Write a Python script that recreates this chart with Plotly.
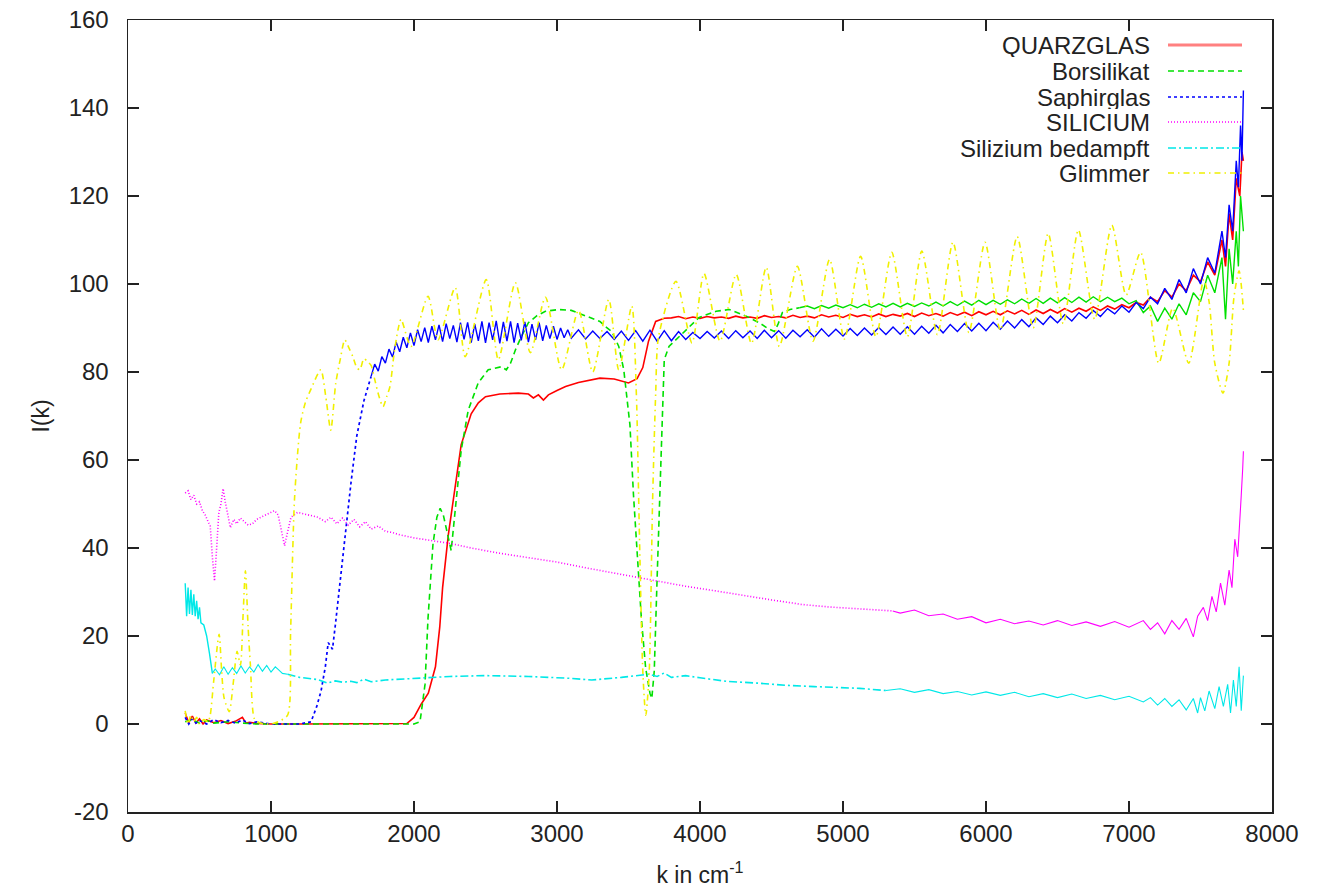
import plotly.graph_objects as go

# ---------------- data ----------------
# QUARZGLAS
quarz_k = [400, 425, 450, 475, 500, 525, 550, 600, 650, 700,
           750, 800, 825, 850, 900, 1000, 1200, 1500, 1800, 1950,
           2000, 2050, 2100, 2150, 2180, 2200, 2240, 2290, 2330, 2400,
           2450, 2500, 2600, 2730, 2800, 2835, 2870, 2905, 2940, 3000,
           3060, 3150, 3300, 3400, 3500, 3560, 3600, 3640, 3690, 3750] \
    + list(range(3800, 7001, 50)) \
    + [7050, 7100, 7150, 7200, 7250, 7300, 7350, 7400, 7450, 7500,
       7550, 7600, 7650, 7675, 7700, 7725, 7750, 7775, 7790, 7800]
quarz_i = [2.5, 0.3, 1.8, 0.2, 1.2, 0, 0.9, 0.3, 0.8, 0.1,
           0.6, 1.5, 0.2, 0.4, 0.1, 0, 0, 0, 0, 0.1,
           1.5, 4.5, 7, 13, 22, 31, 43, 55, 63.5, 70.5,
           73, 74.4, 75, 75.2, 75, 74.1, 74.8, 73.6, 74.8, 75.8,
           76.7, 77.6, 78.6, 78.4, 77.5, 78.5, 81, 87, 91.5, 92.2,
           92.3, 92.6, 92.1, 92.5, 92.2, 92.6, 92.3, 92.5, 92.2, 92.7,
           92.3, 92.5, 92.2, 92.8, 92.4, 92.6, 92.3, 92.9, 92.4, 92.7,
           92.3, 93.0, 92.5, 92.9, 92.4, 93.1, 92.6, 93.0, 92.5, 93.2,
           92.6, 93.1, 92.7, 93.3, 92.6, 93.4, 92.8, 93.3, 92.7, 93.5,
           92.9, 93.6, 92.8, 93.7, 93.0, 93.8, 93.0, 93.9, 93.2, 94.0,
           93.1, 94.1, 93.3, 94.2, 93.4, 94.4, 93.6, 94.5, 93.8, 94.8,
           94.0, 95.0, 94.3, 95.3, 94.6,
           95.8, 95.2, 97.0, 96.0, 98.5, 97.0, 100.0, 98.5, 102.0, 100.5,
           105.0, 102.0, 110.0, 104.0, 116.0, 110.0, 124.0, 120.0, 130.0, 128.0]

# Borsilikat
bors_k = [400, 450, 500, 550, 600, 700, 800, 900, 1500, 2000,
          2042, 2077, 2098, 2133, 2160, 2183, 2205, 2225, 2260, 2295,
          2330, 2379, 2449, 2519, 2580, 2611, 2646, 2675, 2709, 2750,
          2800, 2860, 2919, 3011, 3100, 3221, 3300, 3340, 3383, 3432,
          3467, 3488, 3510, 3535, 3560, 3590, 3620, 3650, 3663, 3680,
          3700, 3712, 3734, 3750, 3783, 3853, 3930, 3994, 4113, 4204,
          4323, 4414, 4470, 4520, 4545, 4576, 4630, 4695] \
    + list(range(4750, 7651, 50)) \
    + [7675, 7700, 7725, 7750, 7765, 7780, 7800]
bors_i = [0.5, 1, 0.2, 0.8, 0.2, 0.5, 0.2, 0, 0, 0,
          0.5, 9, 24, 41, 47, 49, 47.5, 44.6, 39.4, 50.8,
          62.2, 71.3, 77.5, 80.5, 81, 81.2, 80.5, 82, 85, 88,
          91.2, 92.8, 93.8, 94.2, 94, 92.4, 91.5, 90.3, 89.2, 85.8,
          80.5, 74.4, 68, 52, 38, 24, 12.7, 7, 5.8, 12,
          33, 45, 70, 82.8, 85.8, 88, 90.3, 92.4, 93.8, 94.2,
          92.7, 91.2, 90, 89.2, 90.8, 93.5, 94.2, 94.6,
          95.0, 94.4, 95.1, 94.5, 95.2, 94.6, 95.3, 94.6, 95.4, 94.7,
          95.5, 94.8, 95.6, 94.8, 95.6, 94.9, 95.7, 95.0, 95.9, 95.0,
          96.0, 95.1, 96.1, 95.2, 96.3, 95.3, 96.3, 95.4, 96.4, 95.5,
          96.6, 95.6, 96.7, 95.6, 96.8, 95.7, 96.9, 95.8, 97.0, 95.9,
          97.1, 96.0, 97.0, 96.0, 96.8, 95.5, 96.2, 93.5, 95.0, 91.5,
          94.5, 92.0, 95.5, 93.0, 98.0, 96.0, 102.0, 98.0, 106.0,
          92.0, 108.0, 100.0, 112.0, 104.0, 120.0, 112.0]

# Saphirglas
saph_k = [400, 425, 450, 475, 500, 550, 600, 650, 700, 750,
          800, 850, 900, 1000, 1100, 1200, 1280, 1320, 1350, 1380,
          1400, 1430, 1450, 1470, 1500, 1520, 1560, 1600, 1650] \
    + list(range(1700, 3101, 25)) \
    + list(range(3150, 7651, 50)) \
    + [7675, 7700, 7725, 7750, 7765, 7780, 7790, 7800]
saph_i = [1.5, 0, 1.2, 0.2, 0.8, 0, 1, 0.3, 0.8, 0.2,
          0.9, 0.1, 0.5, 0, 0, 0, 0.5, 4, 7.5, 13,
          18.5, 17, 22.5, 28.5, 38, 44, 55, 65.5, 73.5,
          79.0, 81.8, 80.2, 83.5, 82.0, 85.2, 83.4, 86.8, 84.6, 87.9,
          85.5, 88.9, 86.0, 89.6, 86.9, 90.1, 86.7, 90.4, 87.3, 90.7,
          86.9, 91.0, 87.6, 90.6, 86.8, 91.2, 87.4, 91.3, 86.7, 90.9,
          87.1, 91.5, 86.6, 91.2, 87.3, 91.6, 86.5, 91.4, 87.0, 91.5,
          86.7, 91.1, 87.2, 91.4, 86.8, 90.9, 87.3, 91.2, 87.1, 90.6,
          87.6, 90.4, 87.4, 90.0, 87.8, 89.6, 87.7,
          89.6, 87.5, 89.3, 87.6, 89.2, 87.4, 89.3, 87.2, 89.4, 87.0,
          89.5, 87.0, 89.4, 87.1, 89.2, 87.4, 89.0, 87.6, 89.2, 87.7,
          89.3, 87.6, 89.4, 87.8, 89.3, 87.6, 89.5, 87.8, 89.4, 87.7,
          89.5, 88.0, 89.6, 87.9, 89.8, 88.1, 89.7, 88.2, 89.9, 88.3,
          90.0, 88.4, 90.1, 88.5, 90.2, 88.6, 90.3, 88.6, 90.4, 88.8,
          90.6, 88.9, 90.8, 89.2, 91.0, 89.3, 91.1, 89.4, 91.3, 89.7,
          91.6, 90.0, 91.9, 90.3, 92.3, 90.8, 92.7, 91.2, 93.0, 91.6,
          93.5, 92.2, 94.0, 92.6, 94.4, 93.2, 95.0, 93.6, 95.8, 94.4,
          97.0, 95.5, 99.0, 96.5, 101.0, 98.0, 103.5, 100.0, 106.0, 102.5,
          112.0,
          106.0, 118.0, 112.0, 128.0, 122.0, 136.0, 128.0, 144.0]

# SILICIUM
sil_k = [400, 420, 440, 460, 480, 500, 520, 540, 560, 575,
         590, 605, 620, 635, 650, 665, 680, 700, 716, 740,
         760, 786, 810, 840, 870, 900, 930, 954, 990, 1025,
         1050, 1075, 1095, 1115, 1140, 1186, 1250, 1326, 1380, 1420,
         1460, 1500, 1540, 1580, 1620, 1660, 1700, 1750, 1800, 1850,
         1900, 2000, 2100, 2260, 2400, 2600, 2800, 3000, 3200, 3400,
         3600, 3712, 3900, 4100, 4300, 4500, 4646, 4700, 4900, 5100,
         5348, 5400, 5500, 5600, 5700, 5800, 5900, 6000, 6100, 6200,
         6300, 6400, 6500, 6600, 6700, 6800, 6900, 7000, 7100, 7150,
         7200, 7250, 7300, 7350, 7400, 7450, 7480, 7520, 7550, 7580,
         7610, 7640, 7670, 7700, 7720, 7740, 7760, 7775, 7785, 7795,
         7800]
sil_i = [52.5, 53, 51, 52, 50, 50.5, 48.5, 47.5, 46, 45,
         38, 32.5, 40, 48, 50, 53.5, 50.5, 47, 44.6, 46.5,
         45.5, 46.8, 46, 45.2, 45.5, 46.5, 47, 47.4, 48, 48.5,
         47.5, 44, 40.5, 43.5, 47, 48.1, 47.6, 47, 46, 47,
         45.5, 46.8, 45.2, 46.5, 44.8, 46, 44.3, 45, 43.8, 43.5,
         43, 42.3, 41.8, 41, 40, 38.8, 37.8, 36.8, 35.5, 34.3,
         33.2, 32.5, 31.3, 30.3, 29.2, 28.2, 27.5, 27.2, 26.6, 26.2,
         25.7, 25.2, 25.9, 24.6, 25.0, 23.8, 24.4, 23.0, 23.8, 22.8,
         23.4, 22.5, 23.5, 22.4, 23.2, 22.2, 23.3, 22.0, 23.5, 21.5,
         23.0, 20.5, 23.5, 21.5, 24.0, 19.8, 24.5, 26.5, 23.5, 29.0,
         25.5, 32.0, 27.0, 35.0, 31.0, 42.0, 38.0, 45.0, 52.0, 58.0,
         62.0]

# Silizium bedampft
bed_k = [400, 410, 420, 430, 440, 450, 460, 470, 480, 490,
         500, 510, 530, 550, 570, 590, 610, 640, 670, 700,
         730, 760, 790, 820, 850, 880, 910, 940, 970, 1000,
         1030, 1050, 1080, 1116, 1200, 1326, 1397, 1450, 1500, 1558,
         1600, 1650, 1700, 1800, 2028, 2250, 2498, 2800, 3081, 3243,
         3450, 3642, 3700, 3750, 3800, 3900, 4000, 4183, 4400, 4600,
         4800, 5000, 5116, 5300, 5400, 5500, 5600, 5700, 5800, 5900,
         6000, 6100, 6200, 6300, 6400, 6500, 6600, 6700, 6800, 6900,
         7000, 7100, 7150, 7200, 7250, 7300, 7350, 7400, 7450, 7480,
         7500, 7530, 7560, 7600, 7630, 7660, 7690, 7710, 7730, 7750,
         7770, 7785, 7800]
bed_i = [32, 24.5, 31, 25, 30.5, 24.8, 29.5, 24.5, 28, 23.8,
         26.5, 23, 22.5, 20, 16, 11.5, 12.5, 11.2, 13, 11.3,
         12.8, 11.5, 13.2, 11.6, 13, 11.8, 13.5, 12, 13.3, 11.8,
         13, 12.4, 11.5, 11.3, 10.6, 10.1, 9.3, 9.8, 9.5, 9.7,
         9.4, 10.2, 9.6, 10, 10.4, 10.8, 11, 10.8, 10.4, 10,
         10.6, 11.3, 10.8, 11.6, 10.6, 11, 10.5, 9.7, 9.3, 8.8,
         8.5, 8.2, 8.1, 7.6, 8.0, 7.2, 7.8, 6.9, 7.4, 6.6,
         7.3, 6.5, 7.2, 6.2, 6.9, 6.0, 6.8, 5.8, 6.5, 5.5,
         6.3, 5.0, 6.0, 4.3, 5.8, 4.0, 5.5, 3.2, 5.8, 2.5,
         6.0, 3.0, 7.5, 3.5, 8.5, 4.0, 9.0, 2.5, 10.0, 4.0,
         13.0, 3.0, 11.0]

# Glimmer
glim_k = [400, 420, 440, 460, 480, 500, 530, 560, 575, 600,
          637, 655, 672, 708, 735, 763, 786, 805, 821, 840,
          856, 884, 920, 1000, 1050, 1116, 1137, 1165, 1207, 1240,
          1278, 1348, 1383, 1418, 1453, 1485, 1516, 1545, 1572, 1600,
          1621, 1650, 1677, 1700, 1726, 1755, 1783, 1810, 1832, 1860,
          1888, 1909, 1979, 2098, 2168, 2288, 2358, 2505, 2590, 2709,
          2814, 2919, 3032, 3151, 3250, 3362, 3432, 3523, 3555, 3575,
          3600, 3621, 3645, 3668, 3690, 3710, 3832, 3944, 4028, 4140,
          4253, 4360, 4463, 4555, 4681, 4790, 4906, 5010, 5123, 5230,
          5341, 5450, 5551, 5660, 5769, 5880, 5993, 6100, 6218, 6330,
          6435, 6540, 6646, 6760, 6880, 6980, 7081, 7208, 7306, 7418,
          7523, 7560, 7600, 7657, 7700, 7734, 7770, 7800]
glim_i = [3, 0, 2, 0.5, 1.5, 0, 1, 0.5, 2, 10,
          20.4, 12, 5.9, 2.8, 9, 16.5, 13.4, 25, 34.8, 22,
          13.4, 1.2, 0.3, 0, 0.5, 2, 21, 51.5, 68.4, 73,
          76, 80.5, 74.4, 66.8, 77.5, 83, 87.3, 85.5, 83.5, 81,
          80.5, 83, 82.3, 81.5, 78.2, 74.5, 72.1, 74.5, 76.7, 84,
          89.6, 92, 85.8, 97.2, 87.3, 99.2, 83.5, 101, 82.8, 100.3,
          84.4, 97, 80.5, 94, 80, 96.5, 80.5, 95, 75, 45,
          12, 2, 12, 50, 75, 88, 100.6, 86.6, 102.4, 87,
          102.2, 86.5, 103.8, 85.8, 104, 87, 105.6, 87.5, 106.3, 88,
          107.2, 88, 107.5, 88.5, 109.5, 89, 109.5, 89.5, 110.8, 90,
          111.5, 91, 112.3, 92, 113.4, 97.5, 107.2, 82, 94.5, 82,
          101, 96, 82, 75.2, 82, 97, 103, 94]

names = ["QUARZGLAS", "Borsilikat", "Saphirglas", "SILICIUM",
         "Silizium bedampft", "Glimmer"]
y_ticks = [-20, 0, 20, 40, 60, 80, 100, 120, 140, 160]
y_tick_labels = ["-20", "0", "20", "40", "60", "80", "100", "120", "140", "160"]
x_ticks = [0, 1000, 2000, 3000, 4000, 5000, 6000, 7000, 8000]

# ---------------- styles ----------------
colors = ["#ff0000", "#00e000", "#0000ff", "#ff00ff", "#00e8e8", "#f0f000"]
DASH = {"b": "6px,4px", "s": "3px,3px", "m": "1px,2px",
        "c": "8px,3px,2px,3px", "g": "6px,4px,1.5px,4px"}
# (from k, to k, dash, width): dense noisy stretches drawn solid, as they appear
style_ranges = [
    [(0, 9000, "solid", 1.6)],
    [(0, 4695, DASH["b"], 1.6), (4695, 9000, "solid", 1.4)],
    [(0, 1700, DASH["s"], 1.7), (1700, 9000, "solid", 1.4)],
    [(0, 5348, DASH["m"], 1.6), (5348, 9000, "solid", 1.1)],
    [(0, 590, "solid", 1.4), (590, 1116, "solid", 1.1),
     (1116, 5300, DASH["c"], 1.6), (5300, 9000, "solid", 1.1)],
    [(0, 9000, DASH["g"], 1.6)],
]
series = [(quarz_k, quarz_i, "linear"), (bors_k, bors_i, "linear"),
          (saph_k, saph_i, "linear"), (sil_k, sil_i, "linear"),
          (bed_k, bed_i, "linear"), (glim_k, glim_i, "spline")]

fig = go.Figure()
for (k, v, shape), col, ranges in zip(series, colors, style_ranges):
    for a, b, dash, w in ranges:
        xs = [kk for kk in k if a <= kk <= b]
        ys = [vv for kk, vv in zip(k, v) if a <= kk <= b]
        line = dict(color=col, width=w, dash=dash, shape=shape)
        if shape == "spline":
            line["smoothing"] = 0.7
        fig.add_trace(go.Scatter(x=xs, y=ys, mode="lines", line=line,
                                 hoverinfo="skip", showlegend=False))

# ---------------- page geometry (body margin removed by post_script) ----------------
FW, FH = 1319, 888
ML, MR, MT, MB = 128, 47, 20, 76
PW, PH = FW - ML - MR, FH - MT - MB
def px_x(p):   # p: x in the 1319x888 screenshot
    return (p - ML) / PW
def px_y(p):
    return (MT + PH - p) / PH

# ---------------- gnuplot-style key (text left, sample right) ----------------
legend_rows = [45, 71, 97, 122, 148, 173]
sample_cols = ["#ff8080", "#00e000", "#0000ff", "#ff00ff", "#00e8e8", "#f0f000"]
sample_w = [3, 1.6, 1.6, 1.6, 1.6, 1.6]
sample_dash = ["solid", DASH["b"], DASH["s"], DASH["m"], DASH["c"], DASH["g"]]
for row, name, col, w, dash in zip(legend_rows, names, sample_cols, sample_w, sample_dash):
    fig.add_annotation(x=px_x(1152), y=px_y(row), xref="paper", yref="paper",
                       text=name, showarrow=False, xanchor="right", yanchor="middle",
                       height=24, valign="middle",
                       font=dict(size=24, color="#222222"))
    fig.add_shape(type="line", xref="paper", yref="paper",
                  x0=px_x(1168), x1=px_x(1242), y0=px_y(row), y1=px_y(row),
                  line=dict(color=col, width=w, dash=dash))

axis_common = dict(showline=True, linecolor="#222222", linewidth=1.5, mirror="ticks",
                   ticks="inside", ticklen=11, tickwidth=1.3, tickcolor="#222222",
                   showgrid=False, zeroline=False, automargin=False,
                   ticklabeloverflow="allow",
                   tickfont=dict(size=24, color="#222222"))

fig.update_layout(
    width=FW, height=FH,
    margin=dict(l=ML, r=MR, t=MT, b=MB, pad=0),
    plot_bgcolor="white", paper_bgcolor="white",
    font=dict(family="Liberation Sans, Arial, Helvetica, sans-serif", size=24, color="#222222"),
    showlegend=False,
    xaxis=dict(range=[0, 8000], tickmode="array", tickvals=x_ticks,
               title=dict(text="k in cm<sup>-1</sup>", standoff=22, font=dict(size=23)),
               ticklabelstandoff=0, **axis_common),
    yaxis=dict(range=[-20, 160], tickmode="array", tickvals=y_ticks,
               ticktext=y_tick_labels,
               title=dict(text="I(k)", standoff=12, font=dict(size=23)),
               ticklabelstandoff=13, **axis_common),
)

fig.write_html("out.html",
               config={"displayModeBar": False, "staticPlot": True},
               post_script="document.body.style.margin='0px';"
                           "document.body.style.overflow='hidden';")
